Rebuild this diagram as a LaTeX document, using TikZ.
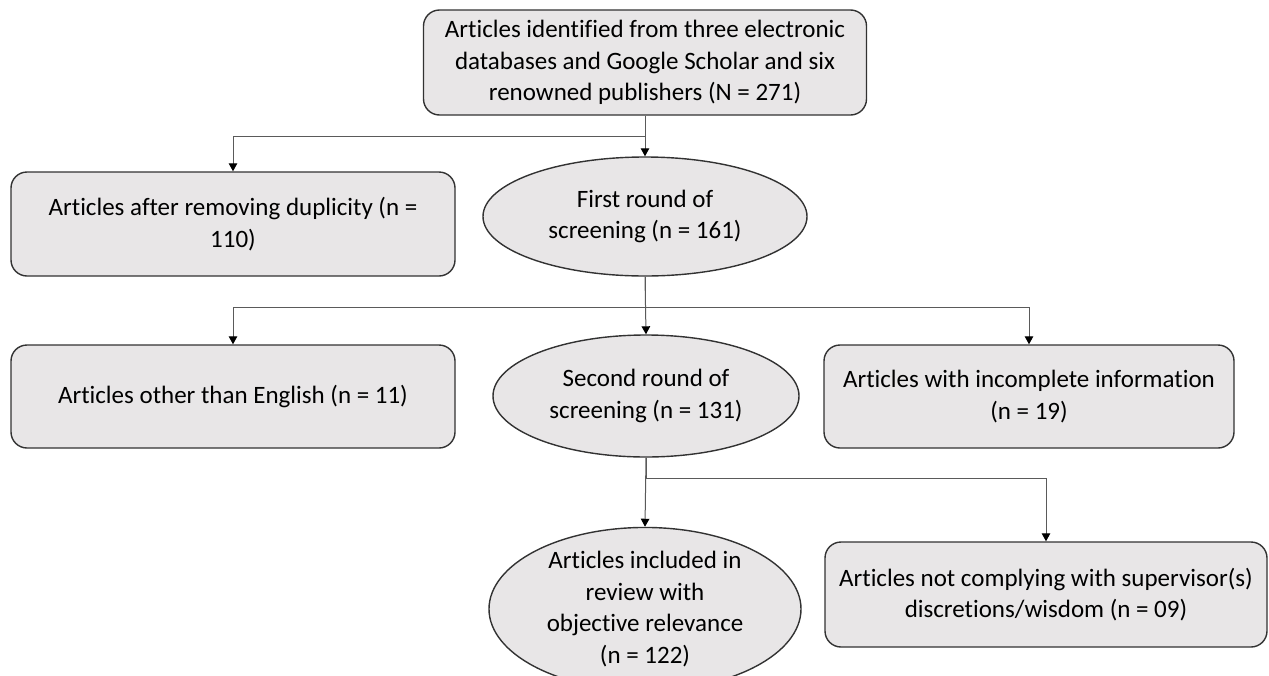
\documentclass[tikz,border=0pt]{standalone}
\usepackage{fontspec}
\setmainfont{Carlito}[Ligatures=NoCommon]
\usetikzlibrary{shapes.geometric,arrows.meta}
\definecolor{boxfill}{RGB}{232,230,231}
\definecolor{boxline}{RGB}{50,50,50}
\definecolor{linkline}{RGB}{90,90,90}

\tikzset{
  rbox/.style={draw=boxline, line width=1.4pt, fill=boxfill, rounded corners=16pt,
    align=center, inner sep=0pt, font=\fontsize{25}{31.5}\selectfont},
  oval/.style={ellipse, draw=boxline, line width=1.4pt, fill=boxfill,
    align=center, inner sep=0pt, font=\fontsize{25}{31.5}\selectfont},
  link/.style={draw=linkline, line width=1pt,
    -{Triangle[width=8.5pt,length=8pt,color=black]}},
}

\begin{document}
\begin{tikzpicture}[x=1pt, y=-1pt]
    \useasboundingbox (0,0) rectangle (1269,675);

    % boxes and ovals
    \node[rbox, minimum width=443pt, minimum height=105pt] (src) at (645,62.5)
      {Articles identified from three electronic\\databases and Google Scholar and six\\renowned publishers (N = 271)};
    \node[rbox, minimum width=444pt, minimum height=104pt] (dup) at (233,224)
      {Articles after removing duplicity (n =\\110)};
    \node[oval, minimum width=324pt, minimum height=119pt] (first) at (645,216.5)
      {First round of\\screening (n = 161)};

    \node[rbox, minimum width=444pt, minimum height=103pt] (eng) at (233,396.5)
      {Articles other than English (n = 11)};
    \node[oval, minimum width=306pt, minimum height=122pt] (second) at (646,396)
      {Second round of\\screening (n = 131)};
    \node[rbox, minimum width=410pt, minimum height=103pt] (inc) at (1029,396.5)
      {Articles with incomplete information\\(n = 19)};

    \node[oval, minimum width=312pt, minimum height=142pt] (incl) at (645,609)
      {Articles included in\\review with\\objective relevance\\(n = 122)};
    \node[rbox, minimum width=442pt, minimum height=105pt] (supv) at (1046,594.5)
      {Articles not complying with supervisor(s)\\discretions/wisdom (n = 09)};

    % connectors
    \draw[link] (src.south) -- (first.north);
    \draw[link] (src.south) -- ++(0,21) -| (dup.north);

    \draw[link] (first.south) -- (second.north);
    \draw[link] (first.south) -- ++(0,31) -| (eng.north);
    \draw[link] (first.south) -- ++(0,31) -| (inc.north);

    \draw[link] (second.south) -- (incl.north);
    \draw[link] (second.south) -- ++(0,21) -| (supv.north);
\end{tikzpicture}
\end{document}
